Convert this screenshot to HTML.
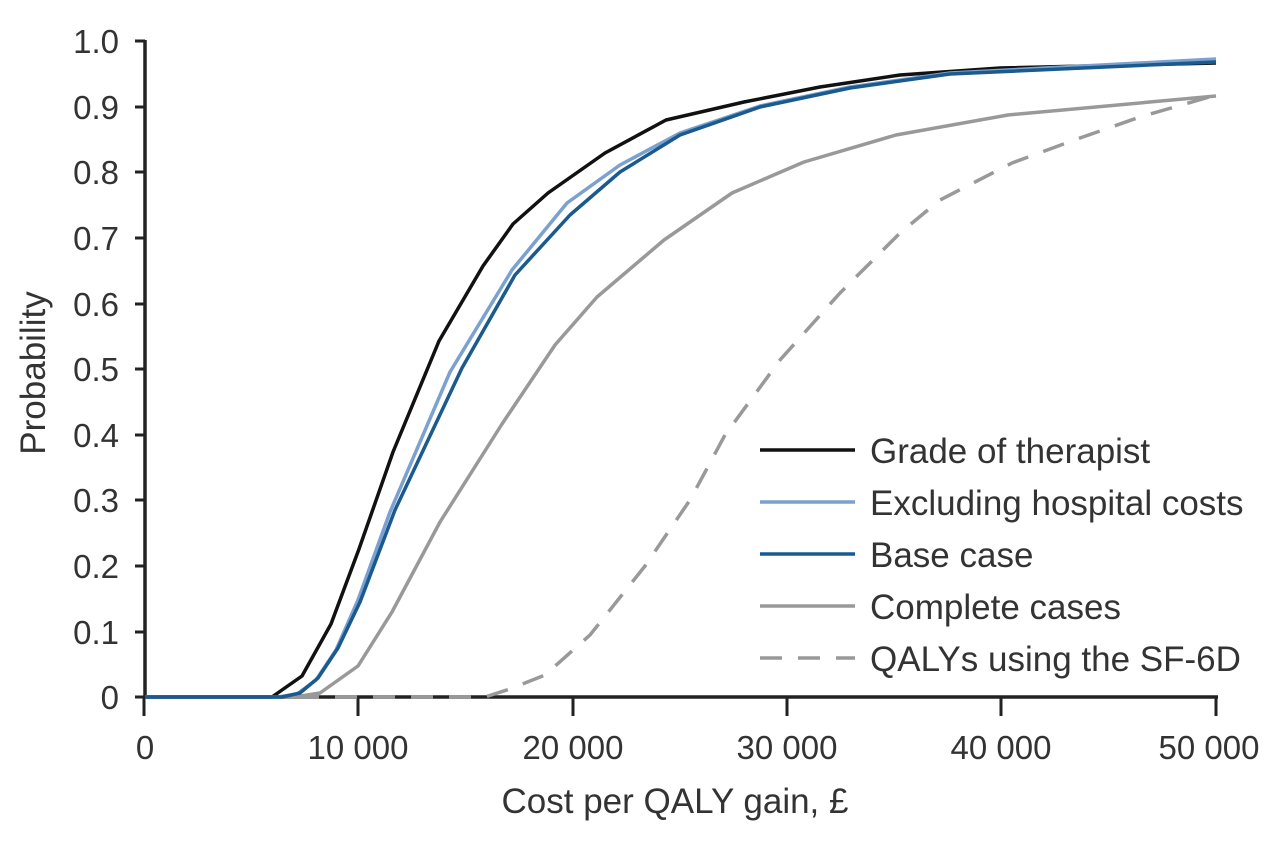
<!DOCTYPE html><html><head><style>body{margin:0;background:#fff}svg{display:block}text{font-family:"Liberation Sans",sans-serif;fill:#333}</style></head><body>
<svg width="1280" height="863" viewBox="0 0 1280 863">
<g stroke="#222" stroke-width="3.5" fill="none">
<line x1="145" y1="40" x2="145" y2="699"/>
<line x1="143" y1="697" x2="1218" y2="697"/>
<g stroke-width="3">
<line x1="135" y1="41" x2="145" y2="41"/><line x1="135" y1="107" x2="145" y2="107"/><line x1="135" y1="172" x2="145" y2="172"/><line x1="135" y1="238" x2="145" y2="238"/><line x1="135" y1="304" x2="145" y2="304"/><line x1="135" y1="369" x2="145" y2="369"/><line x1="135" y1="435" x2="145" y2="435"/><line x1="135" y1="500" x2="145" y2="500"/><line x1="135" y1="566" x2="145" y2="566"/><line x1="135" y1="632" x2="145" y2="632"/><line x1="135" y1="697" x2="145" y2="697"/>
<line x1="144" y1="697" x2="144" y2="716"/><line x1="358" y1="697" x2="358" y2="716"/><line x1="573" y1="697" x2="573" y2="716"/><line x1="787" y1="697" x2="787" y2="716"/><line x1="1001" y1="697" x2="1001" y2="716"/><line x1="1216" y1="697" x2="1216" y2="716"/>
</g></g>
<g font-size="33" text-anchor="end">
<text x="119" y="53">1.0</text><text x="119" y="119">0.9</text><text x="119" y="184">0.8</text><text x="119" y="250">0.7</text><text x="119" y="316">0.6</text><text x="119" y="381">0.5</text><text x="119" y="447">0.4</text><text x="119" y="512">0.3</text><text x="119" y="578">0.2</text><text x="119" y="644">0.1</text><text x="119" y="709">0</text>
</g>
<g font-size="33" text-anchor="middle">
<text x="145" y="759">0</text><text x="358" y="759">10 000</text><text x="573" y="759">20 000</text><text x="787" y="759">30 000</text><text x="1001" y="759">40 000</text><text x="1209" y="759">50 000</text>
</g>
<g font-size="35" text-anchor="middle">
<text x="675" y="813">Cost per QALY gain, £</text>
<text transform="translate(45,373) rotate(-90)">Probability</text>
</g>
<g fill="none" stroke-width="3.5" stroke-linejoin="round">
<polyline stroke="#999" points="145,697 295,697 320,693 358,666 392,612 440,522 502,424 555,345 597,297 664,240 732,193 804,162 896,135 1008,115 1216,96"/>
<polyline stroke="#999" stroke-dasharray="22,16" points="145,697 485,697 510,689 545,675 590,635 645,566 690,500 725,435 780,360 840,293 900,233 940,200 1012,163 1080,138 1140,117 1216,95"/>
<polyline stroke="#111" points="145,697 272,697 302,676 331,624 359,549 393,452 439,341 483,266 513,224 548,193 605,153 666,120 744,102 820,87 900,75 1000,68 1216,63"/>
<polyline stroke="#7aa1cf" points="145,697 278,697 297,694 316,680 336,650 358,600 390,512 450,372 512,270 567,203 620,165 680,133 760,106 850,87 950,73 1216,59"/>
<polyline stroke="#1a5a8e" points="145,697 282,697 300,693 318,678 338,648 360,602 395,510 462,368 515,275 570,215 620,172 680,135 760,107 850,88 950,74 1216,62"/>
<line x1="760" y1="450" x2="855" y2="450" stroke="#111"/>
<line x1="760" y1="502" x2="855" y2="502" stroke="#7aa1cf"/>
<line x1="760" y1="554" x2="855" y2="554" stroke="#1a5a8e"/>
<line x1="760" y1="606" x2="855" y2="606" stroke="#999"/>
<line x1="760" y1="658" x2="855" y2="658" stroke="#999" stroke-dasharray="22,16"/>
</g>
<g font-size="35">
<text x="870" y="463">Grade of therapist</text>
<text x="870" y="515">Excluding hospital costs</text>
<text x="870" y="567">Base case</text>
<text x="870" y="619">Complete cases</text>
<text x="870" y="671">QALYs using the SF-6D</text>
</g>
</svg></body></html>
